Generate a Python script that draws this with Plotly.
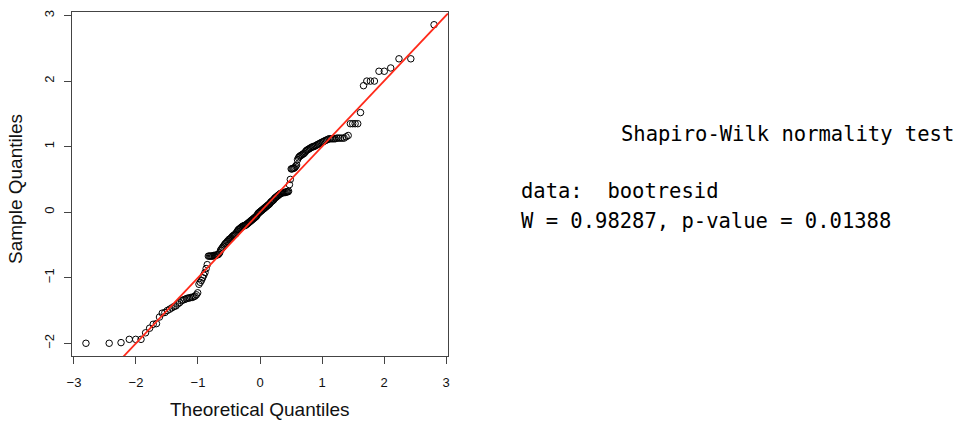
import plotly.graph_objects as go
from statistics import NormalDist

# Sorted sample values (bootresid)
sample_quantiles = [
    -2.00, -2.00, -1.99, -1.94, -1.94, -1.94, -1.84, -1.77, -1.71, -1.70,
    -1.60, -1.54, -1.53, -1.50, -1.48, -1.46, -1.44, -1.43, -1.40, -1.38,
    -1.35, -1.34, -1.33, -1.32, -1.31, -1.31, -1.30, -1.30, -1.29, -1.28,
    -1.26, -1.23, -1.10, -1.07, -1.04, -1.00, -0.96, -0.92, -0.86, -0.80,
    -0.67, -0.67, -0.67, -0.67, -0.67, -0.66, -0.66, -0.66, -0.65, -0.65,
    -0.64, -0.62, -0.58, -0.56, -0.54, -0.52, -0.50, -0.48, -0.47, -0.45,
    -0.44, -0.42, -0.41, -0.40, -0.39, -0.37, -0.36, -0.35, -0.34, -0.33,
    -0.31, -0.29, -0.27, -0.26, -0.25, -0.24, -0.23, -0.22, -0.21, -0.21,
    -0.20, -0.20, -0.19, -0.18, -0.17, -0.16, -0.15, -0.14, -0.13, -0.12,
    -0.11, -0.10, -0.09, -0.08, -0.07, -0.06, -0.04, -0.02, -0.01, 0.00,
    0.01, 0.02, 0.03, 0.04, 0.05, 0.06, 0.07, 0.08, 0.09, 0.10,
    0.11, 0.12, 0.13, 0.15, 0.16, 0.17, 0.18, 0.19, 0.21, 0.22,
    0.23, 0.24, 0.25, 0.26, 0.27, 0.28, 0.29, 0.29, 0.30, 0.30,
    0.30, 0.30, 0.31, 0.31, 0.31, 0.32, 0.42, 0.50, 0.66, 0.66,
    0.67, 0.67, 0.68, 0.70, 0.72, 0.80, 0.83, 0.85, 0.86, 0.87,
    0.88, 0.89, 0.90, 0.92, 0.94, 0.95, 0.96, 0.97, 0.98, 0.99,
    1.00, 1.00, 1.01, 1.02, 1.03, 1.04, 1.05, 1.06, 1.07, 1.08,
    1.09, 1.10, 1.11, 1.12, 1.12, 1.12, 1.12, 1.12, 1.13, 1.13,
    1.13, 1.13, 1.13, 1.15, 1.17, 1.35, 1.35, 1.35, 1.35, 1.52,
    1.93, 2.00, 2.00, 2.00, 2.15, 2.15, 2.20, 2.34, 2.34, 2.86,
]

# Theoretical normal quantiles (qqnorm definition: ppoints(n))
n = len(sample_quantiles)
theoretical_quantiles = [NormalDist().inv_cdf((i + 0.5) / n) for i in range(n)]

# Reference line y = a + b*x
line_intercept = 0.0
line_slope = 1.0

x_ticks = [-3, -2, -1, 0, 1, 2, 3]
y_ticks = [-2, -1, 0, 1, 2, 3]
x_range = [-3.032, 3.032]
y_range = [-2.194, 3.054]

test_title = "Shapiro-Wilk normality test"
test_data = "data:\u00a0\u00a0bootresid"
test_result = "W = 0.98287, p-value = 0.01388"

SANS = "Liberation Sans, Arial, Helvetica, sans-serif"
MONO = "DejaVu Sans Mono, Liberation Mono, monospace"

fig = go.Figure()
fig.add_trace(go.Scatter(
    x=theoretical_quantiles, y=sample_quantiles, mode="markers",
    marker=dict(symbol="circle-open", size=6.5, color="black", line=dict(width=1, color="black")),
    showlegend=False, hoverinfo="x+y",
))
fig.add_trace(go.Scatter(
    x=x_range, y=[line_intercept + line_slope * v for v in x_range], mode="lines",
    line=dict(color="#ff2a1a", width=1.8), showlegend=False, hoverinfo="skip",
))

axis_common = dict(
    showgrid=False, zeroline=False, showline=True, mirror=True,
    linecolor="#444444", linewidth=1, ticks="outside", ticklen=7,
    tickcolor="#444444", tickwidth=1,
    tickfont=dict(family=SANS, size=13, color="#111111"),
)

fig.update_layout(
    width=954, height=421,
    margin=dict(l=72, r=506, t=10, b=65),
    paper_bgcolor="white", plot_bgcolor="white",
    xaxis=dict(range=x_range, tickvals=x_ticks, ticklabelstandoff=7, **axis_common),
    yaxis=dict(range=y_range, tickvals=y_ticks, tickangle=-90, ticklabelstandoff=5, **axis_common),
    annotations=[
        dict(text="Theoretical Quantiles", xref="paper", yref="paper",
             x=(260 - 72) / 376, y=-54 / 346, xanchor="center", yanchor="middle", showarrow=False,
             font=dict(family=SANS, size=19, color="#111111")),
        dict(text="Sample Quantiles", xref="paper", yref="paper",
             x=-56 / 376, y=(356 - 188) / 346, xanchor="center", yanchor="middle", showarrow=False,
             textangle=-90, font=dict(family=SANS, size=19, color="#111111")),
        dict(text=test_title, xref="paper", yref="paper",
             x=(619 - 72) / 376, y=(356 - 133) / 346, xanchor="left", yanchor="middle",
             showarrow=False, font=dict(family=MONO, size=20.5, color="black")),
        dict(text=test_data, xref="paper", yref="paper",
             x=(519 - 72) / 376, y=(356 - 190) / 346, xanchor="left", yanchor="middle",
             showarrow=False, font=dict(family=MONO, size=20.5, color="black")),
        dict(text=test_result, xref="paper", yref="paper",
             x=(519 - 72) / 376, y=(356 - 220) / 346, xanchor="left", yanchor="middle",
             showarrow=False, font=dict(family=MONO, size=20.5, color="black")),
    ],
)

fig.write_html("out.html")
